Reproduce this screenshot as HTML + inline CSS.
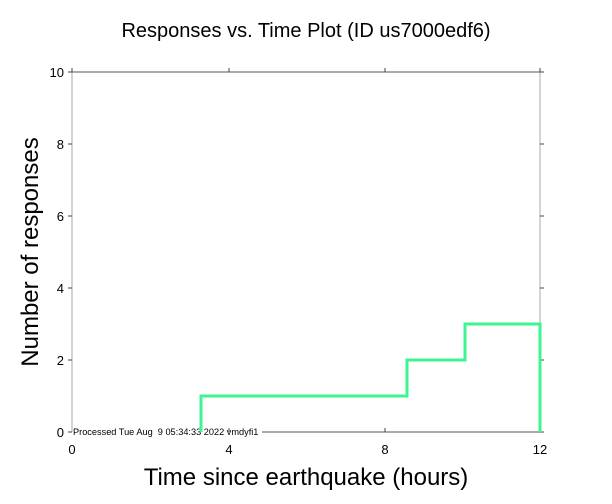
<!DOCTYPE html>
<html><head><style>body{margin:0;background:#fff}svg{display:block}</style></head><body>
<svg width="612" height="504" xmlns="http://www.w3.org/2000/svg" font-family="Liberation Sans, sans-serif">
<rect width="612" height="504" fill="#fff"/>
<text x="306" y="37" font-size="20" text-anchor="middle">Responses vs. Time Plot (ID us7000edf6)</text>
<line x1="72" y1="72" x2="72" y2="432" stroke="#aaa" stroke-width="1"/>
<line x1="540" y1="72" x2="540" y2="432" stroke="#aaa" stroke-width="1"/>
<line x1="72" y1="72" x2="540" y2="72" stroke="#555" stroke-width="1"/>
<line x1="262" y1="432" x2="540" y2="432" stroke="#555" stroke-width="1"/>
<g stroke="#444" stroke-width="1">
<line x1="68" y1="72" x2="72" y2="72"/><line x1="68" y1="144" x2="72" y2="144"/><line x1="68" y1="216" x2="72" y2="216"/><line x1="68" y1="288" x2="72" y2="288"/><line x1="68" y1="360" x2="72" y2="360"/><line x1="68" y1="432" x2="72" y2="432"/>
<line x1="540" y1="72" x2="544" y2="72"/><line x1="540" y1="144" x2="544" y2="144"/><line x1="540" y1="216" x2="544" y2="216"/><line x1="540" y1="288" x2="544" y2="288"/><line x1="540" y1="360" x2="544" y2="360"/><line x1="540" y1="432" x2="544" y2="432"/>
<line x1="72" y1="72" x2="72" y2="68"/><line x1="229" y1="72" x2="229" y2="68"/><line x1="385" y1="72" x2="385" y2="68"/><line x1="540" y1="72" x2="540" y2="68"/>
<line x1="229" y1="432" x2="229" y2="428"/><line x1="385" y1="432" x2="385" y2="428"/><line x1="540" y1="432" x2="540" y2="428"/>
</g>
<g font-size="13" text-anchor="end">
<text x="64" y="77">10</text><text x="64" y="149">8</text><text x="64" y="221">6</text><text x="64" y="293">4</text><text x="64" y="365">2</text><text x="64" y="437">0</text>
</g>
<g font-size="13" text-anchor="middle">
<text x="72" y="454">0</text><text x="229" y="454">4</text><text x="385" y="454">8</text><text x="540" y="454">12</text>
</g>
<text x="73" y="435" font-size="9.2" xml:space="preserve">Processed Tue Aug  9 05:34:33 2022 vmdyfi1</text>
<polyline points="201,432 201,396 407,396 407,360 465,360 465,324 540,324 540,432" fill="none" stroke="#3cf590" stroke-width="3"/>
<text x="306" y="485" font-size="24" text-anchor="middle">Time since earthquake (hours)</text>
<text transform="translate(38,252) rotate(-90)" font-size="24" text-anchor="middle">Number of responses</text>
</svg>
</body></html>
